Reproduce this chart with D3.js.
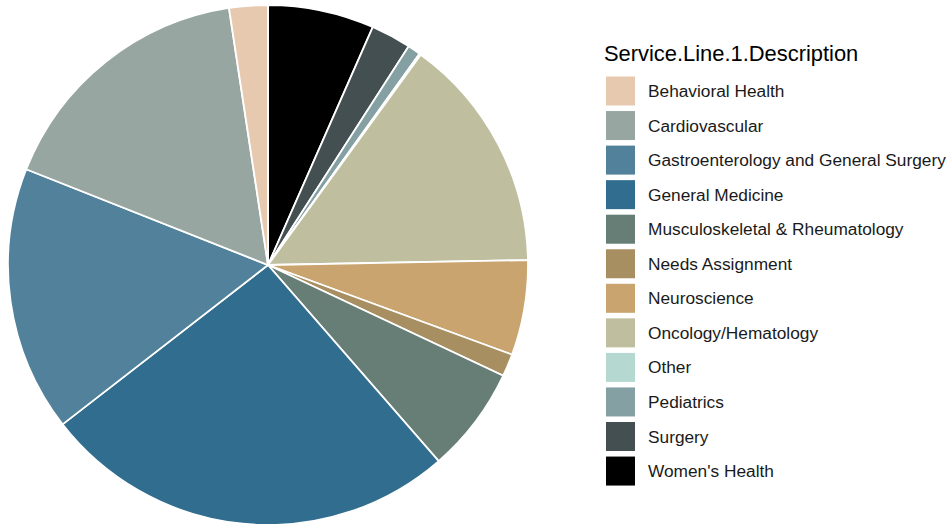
<!DOCTYPE html>
<html>
<head>
<meta charset="utf-8">
<script src="https://cdn.jsdelivr.net/npm/d3@7"></script>
<style>
  body { margin: 0; background: #fff; }
  svg { display: block; font-family: "Liberation Sans", Arial, sans-serif; }
</style>
</head>
<body>
<svg id="chart" width="951" height="524"></svg>
<script>
// legend order (factor levels)
const categories = [
  "Behavioral Health", "Cardiovascular", "Gastroenterology and General Surgery",
  "General Medicine", "Musculoskeletal & Rheumatology", "Needs Assignment",
  "Neuroscience", "Oncology/Hematology", "Other", "Pediatrics", "Surgery", "Women's Health"
];
const values = [24, 166, 165, 259, 66, 14, 59, 147, 1, 8, 25, 66];
const colors = [
  "#e7c9b0", "#98a6a2", "#52829b", "#316d8e", "#667e76", "#a88f62",
  "#c9a46e", "#bfbf9f", "#b5d8d1", "#84a0a3", "#434f50", "#000000"
];
const legendTitle = "Service.Line.1.Description";

const svg = d3.select('#chart');
const cx = 268, cy = 265, radius = 260;

const data = categories.map((c, i) => ({ name: c, value: values[i], color: colors[i] }));

// slices go clockwise from 12 o'clock in reverse legend order
const pie = d3.pie()
    .value(d => d.value)
    .sort(null);
const arcs = pie(data.slice().reverse());
const arc = d3.arc().innerRadius(0).outerRadius(radius);

svg.append('g')
    .attr('transform', `translate(${cx},${cy})`)
    .selectAll('path')
    .data(arcs)
    .enter()
    .append('path')
    .attr('d', arc)
    .attr('fill', d => d.data.color)
    .attr('stroke', '#fff')
    .attr('stroke-width', 1.8);

// legend
const legend = svg.append('g').attr('transform', 'translate(604,0)');
legend.append('text')
    .attr('x', 0)
    .attr('y', 61)
    .attr('font-size', '21.9px')
    .attr('fill', '#000')
    .text(legendTitle);

const rowY = d3.scaleBand()
    .domain(categories)
    .range([73.5, 73.5 + 34.55 * categories.length])
    .paddingInner(0);

const rows = legend.selectAll('.key')
    .data(data)
    .enter()
    .append('g')
    .attr('class', 'key')
    .attr('transform', d => `translate(0,${rowY(d.name)})`);

rows.append('rect')
    .attr('x', 2)
    .attr('y', 3)
    .attr('width', 29)
    .attr('height', 29)
    .attr('fill', d => d.color);

rows.append('text')
    .attr('x', 44)
    .attr('y', 17.5)
    .attr('dy', '0.35em')
    .attr('font-size', '17.3px')
    .attr('fill', '#1a1a1a')
    .text(d => d.name);
</script>
</body>
</html>
